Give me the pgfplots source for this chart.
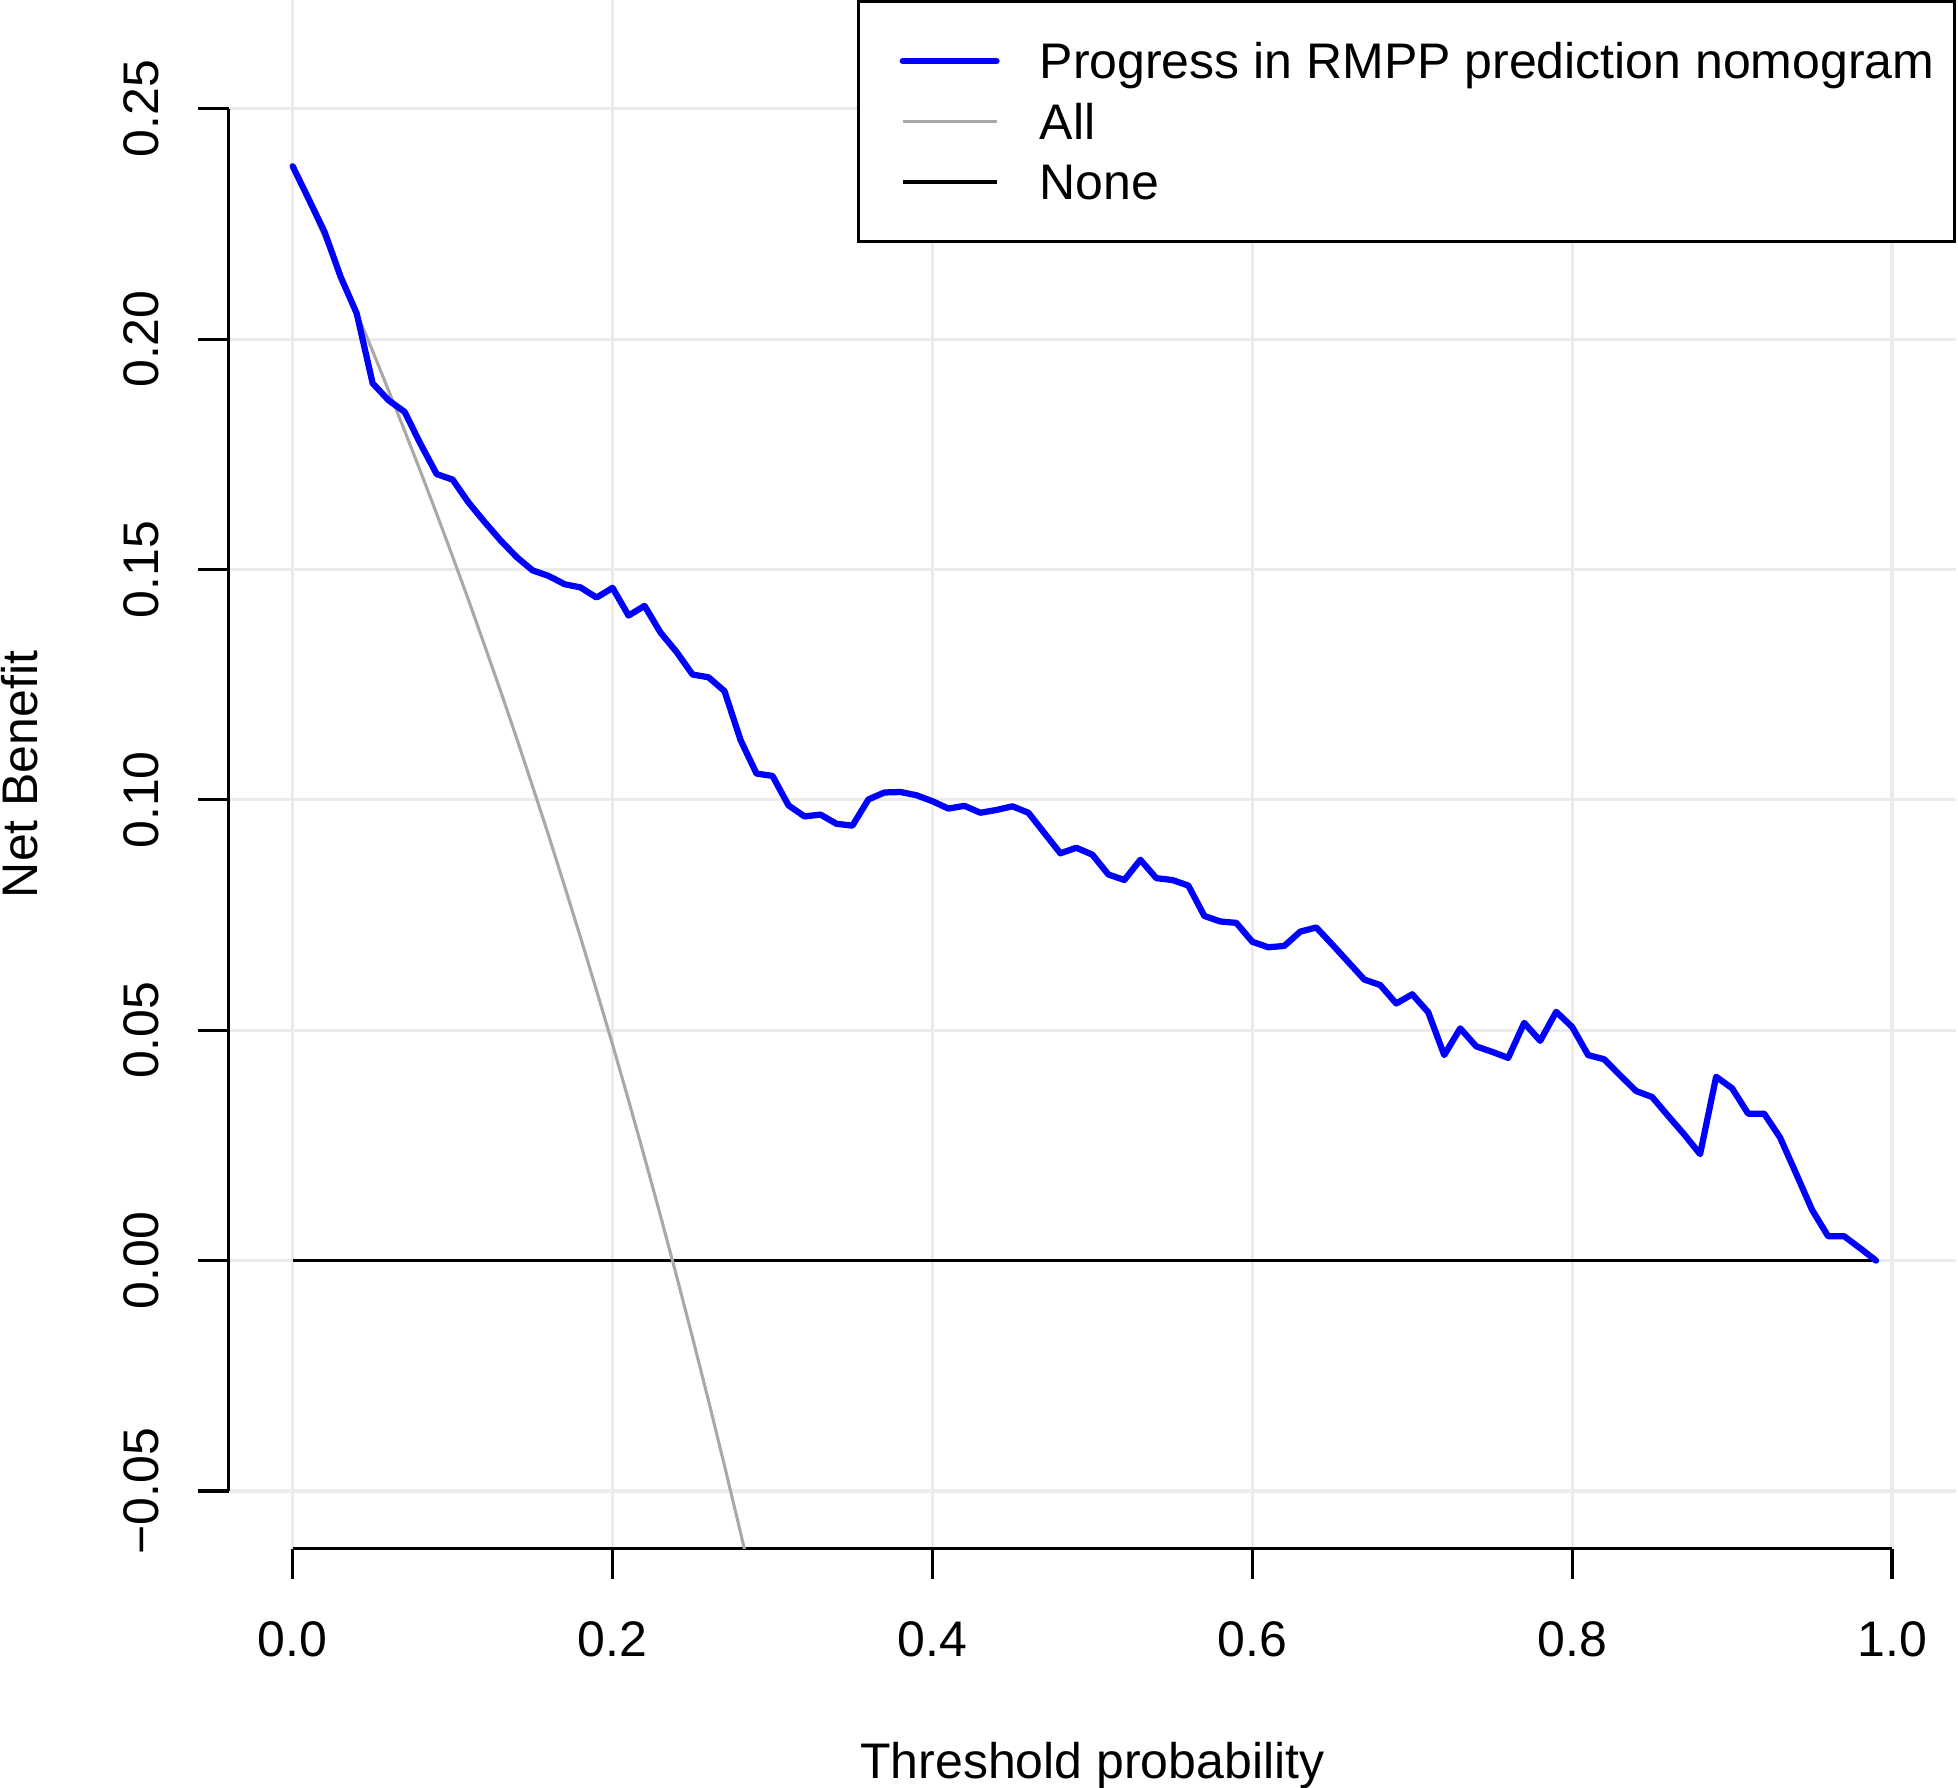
\documentclass[border=0pt]{standalone}
\usepackage{fontspec}
\setmainfont{Liberation Sans}
\usepackage{pgfplots}
\pgfplotsset{compat=1.18}
\definecolor{gridgray}{HTML}{EBEBEB}
\definecolor{allgray}{HTML}{A9A9A9}
\definecolor{modelblue}{HTML}{0000FF}
\begin{document}
\begin{tikzpicture}[font=\fontsize{12}{14.4}\selectfont]
\useasboundingbox (-54.89pt,-57.19pt) rectangle (415.03pt,371.69pt);
\begin{axis}[
  at={(0pt,0pt)}, anchor=south west,
  scale only axis, width=414.55pt, height=371.69pt,
  xmin=-0.04, xmax=1.04, ymin=-0.06253, ymax=0.27359,
  axis x line*=bottom, axis y line*=left,
  x axis line style={-, black, line width=0.75pt, shorten <=15.35pt, shorten >=15.35pt},
  y axis line style={-, black, line width=0.75pt, shorten <=13.85pt, shorten >=26.09pt},
  tick align=outside, major tick length=7.32pt,
  tick style={black, line width=0.75pt},
  xtick={0,0.2,0.4,0.6,0.8,1},
  xticklabels={0.0,0.2,0.4,0.6,0.8,1.0},
  ytick={-0.05,0,0.05,0.1,0.15,0.2,0.25},
  yticklabels={−0.05,0.00,0.05,0.10,0.15,0.20,0.25},
  grid=major, major grid style={draw=gridgray, line width=0.75pt},
  xticklabel style={anchor=base, yshift=-18.43pt},
  yticklabel style={xshift=-9.58pt, rotate=90, anchor=base},
  xlabel={Threshold probability}, ylabel={Net Benefit},
  every axis x label/.style={at={(axis description cs:0.5,0)}, anchor=base, yshift=-55.1pt},
  every axis y label/.style={at={(axis description cs:0,0.5)}, xshift=-45.9pt, rotate=90, anchor=base},
  reverse legend,
  legend cell align=left,
  legend image code/.code={\path (0pt,0pt) (37.2pt,0pt); \draw[#1] (5.1pt,0pt) -- (27.6pt,0pt);},
  legend style={at={(1,1)}, anchor=north east, draw=black, line width=0.75pt, fill=white,
    inner xsep=4.8pt, inner ysep=8.28pt, row sep=2.52pt, /tikz/column sep=0pt,
    nodes={inner sep=0pt, text height=10.3pt, text depth=1.7pt}},
]
\addplot[black, line width=0.75pt] coordinates {(0,0) (0.99,0)};
\addlegendentry{None}
\addplot[allgray, line width=0.75pt, line join=round] coordinates {
(0.00,0.2375) (0.01,0.2298) (0.02,0.2219) (0.03,0.2139) (0.04,0.2057)
(0.05,0.1974) (0.06,0.1888) (0.07,0.1801) (0.08,0.1712) (0.09,0.1621)
(0.10,0.1528) (0.11,0.1433) (0.12,0.1335) (0.13,0.1236) (0.14,0.1134)
(0.15,0.1029) (0.16,0.0923) (0.17,0.0813) (0.18,0.0701) (0.19,0.0586)
(0.20,0.0469) (0.21,0.0348) (0.22,0.0224) (0.23,0.0097) (0.24,-0.0033)
(0.25,-0.0167) (0.26,-0.0304) (0.27,-0.0445) (0.28,-0.0590) (0.29,-0.0739)
(0.30,-0.0893)};
\addlegendentry{All}
\addplot[modelblue, line width=1.5pt, line join=round, line cap=round] coordinates {
(0.00,0.2375) (0.01,0.2304) (0.02,0.2232) (0.03,0.2135) (0.04,0.2056)
(0.05,0.1904) (0.06,0.1867) (0.07,0.1842) (0.08,0.1772) (0.09,0.1707)
(0.10,0.1695) (0.11,0.1645) (0.12,0.1603) (0.13,0.1563) (0.14,0.1527)
(0.15,0.1498) (0.16,0.1486) (0.17,0.1468) (0.18,0.1461) (0.19,0.1439)
(0.20,0.1460) (0.21,0.1400) (0.22,0.1421) (0.23,0.1363) (0.24,0.1321)
(0.25,0.1272) (0.26,0.1266) (0.27,0.1236) (0.28,0.1130) (0.29,0.1057)
(0.30,0.1052) (0.31,0.0988) (0.32,0.0964) (0.33,0.0968) (0.34,0.0948)
(0.35,0.0944) (0.36,0.1001) (0.37,0.1016) (0.38,0.1017) (0.39,0.1010)
(0.40,0.0997) (0.41,0.0981) (0.42,0.0987) (0.43,0.0972) (0.44,0.0978)
(0.45,0.0986) (0.46,0.0972) (0.47,0.0928) (0.48,0.0884) (0.49,0.0896)
(0.50,0.0881) (0.51,0.0838) (0.52,0.0826) (0.53,0.0870) (0.54,0.0830)
(0.55,0.0826) (0.56,0.0814) (0.57,0.0748) (0.58,0.0736) (0.59,0.0733)
(0.60,0.0692) (0.61,0.0680) (0.62,0.0683) (0.63,0.0714) (0.64,0.0723)
(0.65,0.0686) (0.66,0.0648) (0.67,0.0610) (0.68,0.0598) (0.69,0.0558)
(0.70,0.0578) (0.71,0.0539) (0.72,0.0446) (0.73,0.0504) (0.74,0.0465)
(0.75,0.0453) (0.76,0.0440) (0.77,0.0516) (0.78,0.0477) (0.79,0.0540)
(0.80,0.0507) (0.81,0.0446) (0.82,0.0437) (0.83,0.0402) (0.84,0.0368)
(0.85,0.0355) (0.86,0.0314) (0.87,0.0274) (0.88,0.0231) (0.89,0.0399)
(0.90,0.0374) (0.91,0.0319) (0.92,0.0319) (0.93,0.0267) (0.94,0.0189)
(0.95,0.0110) (0.96,0.0053) (0.97,0.0053) (0.98,0.0027) (0.99,0.0000)};
\addlegendentry{Progress in RMPP prediction nomogram}
\end{axis}
\end{tikzpicture}
\end{document}
